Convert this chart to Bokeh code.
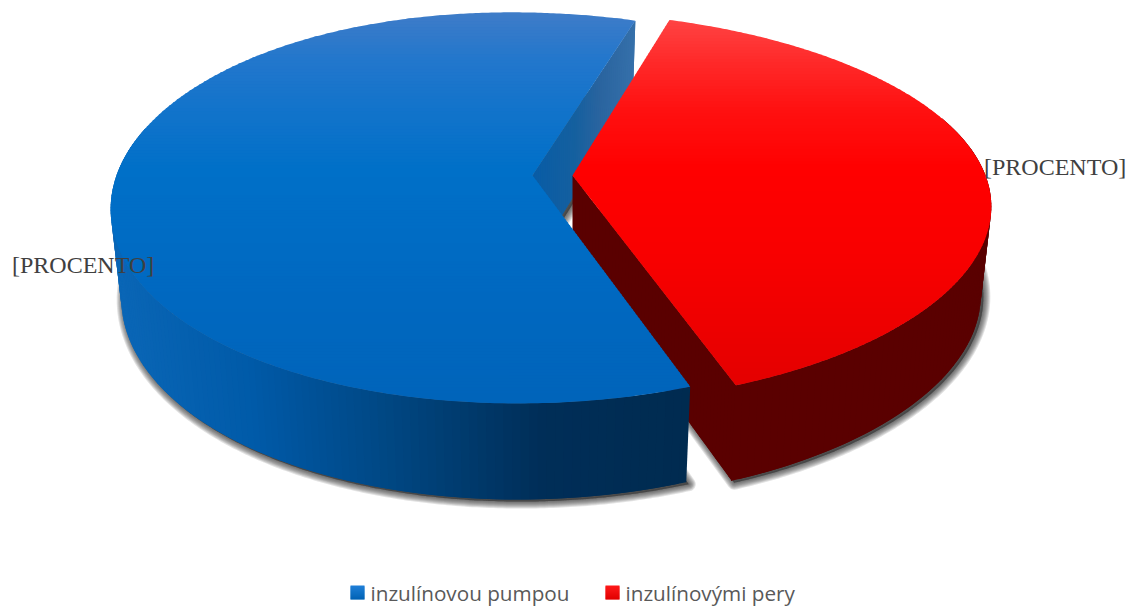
import numpy as np
from bokeh.embed import file_html
from bokeh.resources import INLINE
from bokeh.plotting import figure
from bokeh.models import Range1d, ColumnDataSource
from bokeh.core.properties import value

# Chart content
SLICE_NAMES = ["inzulínovou pumpou", "inzulínovými pery"]
SLICE_SHARES = [59.8, 40.2]
SLICE_LABEL = "[PROCENTO]"
FIRST_ANGLE = 15.8  # the red slice starts here, clockwise from twelve o'clock
BLUE_TWIST = 0.85   # the blue slice sits slightly rotated against the red one

# Colour ramps: (pixel position, colour)
BLUE_TOP = [(12, "#3f7cc8"), (60, "#2277cc"), (100, "#1574cb"), (170, "#0070c8"), (300, "#0068c0"), (400, "#0064ba")]
RED_TOP = [(16, "#ff4545"), (60, "#ff2a2a"), (110, "#ff1010"), (170, "#ff0000"), (260, "#f80000"), (384, "#e40000")]
BLUE_RIM = [(115, "#0a66b6"), (250, "#005aa8"), (400, "#00457f"), (540, "#002e58"), (690, "#002b50")]
RED_RIM = [(570, "#5a0000"), (990, "#5a0000")]
BLUE_WALL = [(532, "#085ca6"), (575, "#15609f"), (600, "#2a649f"), (634, "#3570aa")]
BLUE_KEY = [(585, "#2080d8"), (599, "#0062b4")]
RED_KEY = [(585, "#ff1a1a"), (599, "#e00000")]

# Perspective of the disc
CENTER_Y = 175
CENTER_X = {"blue": 532, "red": 572}
RADIUS_X = {"blue": 416, "red": 413}
RADIUS_Y = 190
TILT = 0.166
OUTLINE_SKEW = 4.0  # slight rotation of the projected outline, in pixels
BASE_SHRINK = 0.975
BASE_STRETCH = 1.04
BASE_DROP = 80


def hex_rgb(c):
    return np.array([int(c[i:i + 2], 16) for i in (1, 3, 5)], float)


def ramp(stops, t):
    pos = [s[0] for s in stops]
    rgb = [hex_rgb(s[1]) for s in stops]
    vals = [np.interp(t, pos, [c[i] for c in rgb]) for i in range(3)]
    return "#%02x%02x%02x" % tuple(int(round(v)) for v in vals)


def top_point(deg, key):
    th = np.radians(deg)
    u, v = np.sin(th), np.cos(th)
    w = 1 + TILT * v
    x = CENTER_X[key] + RADIUS_X[key] * u / w
    y = CENTER_Y - RADIUS_Y * v / w + OUTLINE_SKEW * np.sin(2 * th)
    return x, y


def base_point(x, y, key):
    cx = CENTER_X[key]
    return cx + (x - cx) * BASE_SHRINK, y * BASE_STRETCH + BASE_DROP


def sector(a0, a1, key):
    angles = np.arange(a0, a1, 0.5).tolist() + [a1]
    return [(CENTER_X[key], CENTER_Y)] + [top_point(a, key) for a in angles]


def clip_band(poly, y0, y1):
    def clip(points, keep, cross_y):
        out = []
        for i, p in enumerate(points):
            q = points[(i + 1) % len(points)]
            if keep(p):
                out.append(p)
            if keep(p) != keep(q):
                t = (cross_y - p[1]) / (q[1] - p[1])
                out.append((p[0] + (q[0] - p[0]) * t, cross_y))
        return out

    pts = clip(poly, lambda p: p[1] >= y0, y0)
    if pts:
        pts = clip(pts, lambda p: p[1] <= y1, y1)
    return pts


def vertical_fill(fig, poly, stops, step=3):
    ys = [p[1] for p in poly]
    xs_out, ys_out, cols = [], [], []
    y = min(ys)
    while y < max(ys):
        band = clip_band(poly, y, y + step + 0.8)
        if band:
            xs_out.append([p[0] for p in band])
            ys_out.append([p[1] for p in band])
            cols.append(ramp(stops, y + step / 2))
        y += step
    fig.patches(xs_out, ys_out, fill_color=cols, line_color=None)


def strips(fig, edge, key, stops):
    # edge is a run of points on the upper plane, walled down to the base plane
    xs_out, ys_out, cols = [], [], []
    for i in range(len(edge) - 1):
        a = edge[i]
        b = edge[min(i + 2, len(edge) - 1)]
        ab = base_point(*a, key)
        bb = base_point(*b, key)
        xs_out.append([a[0], b[0], bb[0], ab[0]])
        ys_out.append([a[1], b[1], bb[1], ab[1]])
        cols.append(ramp(stops, (a[0] + edge[i + 1][0]) / 2))
    fig.patches(xs_out, ys_out, fill_color=cols, line_color=None)


def soft_shadow(fig, poly, key):
    base = [base_point(x, y, key) for x, y in poly]
    xs = [p[0] + 2.5 for p in base]
    ys = [p[1] + 2 for p in base]
    for width in (14, 12, 10, 8, 6, 4, 2):
        fig.patch(xs, ys, fill_color="#303030", fill_alpha=0.14, line_color="#303030",
                  line_alpha=0.14, line_width=width, line_join="round")


def radial_edge(end_point, key, ts):
    cx = CENTER_X[key]
    return [(cx + (end_point[0] - cx) * t, CENTER_Y + (end_point[1] - CENTER_Y) * t) for t in ts]


p = figure(width=1134, height=607, output_backend="svg", toolbar_location=None,
           x_range=Range1d(0, 1134), y_range=Range1d(607, 0),
           x_axis_location=None, y_axis_location=None, min_border=0,
           background_fill_color="white", border_fill_color="white", outline_line_color=None)
p.grid.visible = False

red_sweep = 360 * SLICE_SHARES[1] / sum(SLICE_SHARES)
red_start = FIRST_ANGLE
red_end = red_start + red_sweep
blue_start = red_end + BLUE_TWIST
blue_end = red_start + 360 + BLUE_TWIST

blue_poly = sector(blue_start, blue_end, "blue")
red_poly = sector(red_start, red_end, "red")

# Blurred ground shadows first
soft_shadow(p, blue_poly, "blue")
soft_shadow(p, red_poly, "red")

# Cut face of the blue slice seen through the gap
wall_ts = np.linspace(0, 1, 50)
strips(p, radial_edge(top_point(blue_end, "blue"), "blue", wall_ts), "blue", BLUE_WALL)

# Red slice: cut face, rim (started a touch past the corner so no seam shows), top
strips(p, radial_edge(top_point(red_end, "red"), "red", wall_ts), "red", RED_RIM)
strips(p, [top_point(a, "red") for a in np.arange(red_end + 0.1, 70, -1.0)], "red", RED_RIM)
vertical_fill(p, red_poly, RED_TOP)

# Blue slice: rim, top
strips(p, [top_point(a, "blue") for a in np.arange(blue_start, 285, 1.0)], "blue", BLUE_RIM)
vertical_fill(p, blue_poly, BLUE_TOP)

# Data labels
label_src = ColumnDataSource(dict(x=[11.5, 983.5], y=[264, 166], text=[SLICE_LABEL, SLICE_LABEL]))
p.text("x", "y", text="text", source=label_src, text_font=value("Liberation Serif"),
       text_font_size="24px", text_color="#404040", text_align="left", text_baseline="alphabetic")

# Legend
for name, key_x, text_x, stops in zip(SLICE_NAMES, (350, 605), (370, 625), (BLUE_KEY, RED_KEY)):
    square = [(key_x, 585), (key_x + 14, 585), (key_x + 14, 599), (key_x, 599)]
    vertical_fill(p, square, stops, step=1)
    p.text([text_x], [592], text=[name], text_font=value("Open Sans"), text_font_size="20.7px",
           text_color="#595959", text_align="left", text_baseline="middle")

open("out.html", "w").write(file_html(p, INLINE))
